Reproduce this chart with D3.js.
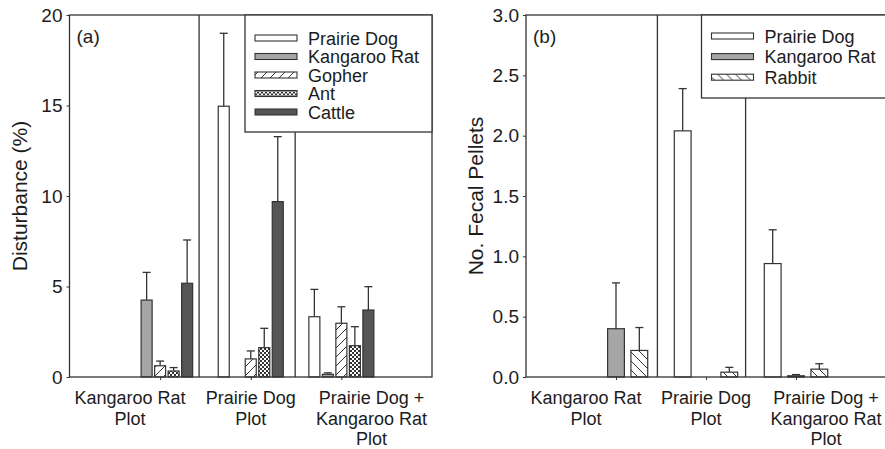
<html><head>
<script src="https://d3js.org/d3.v7.min.js"></script>
<style>
  body { margin: 0; background: #fff; }
  text { font-family: "Liberation Sans", Arial, sans-serif; fill: #1c1c1c; }
</style>
</head>
<body>
<svg id="chart" width="885" height="449"></svg>
<script>
// categories on the x axis
const plots = ["Kangaroo Rat Plot", "Prairie Dog Plot", "Prairie Dog + Kangaroo Rat Plot"];
const plotLabels = [["Kangaroo Rat", "Plot"], ["Prairie Dog", "Plot"], ["Prairie Dog +", "Kangaroo Rat", "Plot"]];

// (a) disturbance (%) - mean and upper error per plot
const distSeries = ["Prairie Dog", "Kangaroo Rat", "Gopher", "Ant", "Cattle"];
const distPrairieDog = [null, 14.96, 3.33];
const distPrairieDogErr = [null, 4.03, 1.51];
const distKangarooRat = [4.25, null, 0.15];
const distKangarooRatErr = [1.53, null, 0.08];
const distGopher = [0.62, 1.0, 2.97];
const distGopherErr = [0.26, 0.44, 0.91];
const distAnt = [0.33, 1.62, 1.73];
const distAntErr = [0.19, 1.07, 1.05];
const distCattle = [5.18, 9.69, 3.70];
const distCattleErr = [2.39, 3.59, 1.29];
const distTicks = [0, 5, 10, 15, 20];

// (b) no. fecal pellets - mean and upper error per plot
const pelSeries = ["Prairie Dog", "Kangaroo Rat", "Rabbit"];
const pelPrairieDog = [null, 2.04, 0.94];
const pelPrairieDogErr = [null, 0.35, 0.28];
const pelKangarooRat = [0.40, null, 0.01];
const pelKangarooRatErr = [0.38, null, 0.01];
const pelRabbit = [0.22, 0.04, 0.065];
const pelRabbitErr = [0.19, 0.04, 0.045];
const pelTicks = [0, 0.5, 1.0, 1.5, 2.0, 2.5, 3.0];

// hand drawn dividers (x in axis units)
const distDividers = [1.43, 2.49];
const pelDividers = [1.46, 2.44];

const svg = d3.select("#chart");
const ink = "#333";
const plotTop = 15, plotBottom = 377;

// fill patterns
const defs = svg.append("defs");
function hatch(id, size, d) {
    const p = defs.append("pattern").attr("id", id)
        .attr("patternUnits", "userSpaceOnUse").attr("width", size).attr("height", size);
    p.append("rect").attr("width", size).attr("height", size).attr("fill", "#fff");
    p.append("path").attr("d", d).attr("stroke", ink).attr("stroke-width", 1);
}
hatch("fwd", 9, "M-2,2L2,-2M0,9L9,0M7,11L11,7");
hatch("back", 9, "M-2,7L2,11M0,0L9,9M7,-2L11,2");
const chk = defs.append("pattern").attr("id", "chk")
    .attr("patternUnits", "userSpaceOnUse").attr("width", 4).attr("height", 4);
chk.append("rect").attr("width", 4).attr("height", 4).attr("fill", "#fff");
chk.append("rect").attr("width", 2).attr("height", 2).attr("fill", "#333");
chk.append("rect").attr("x", 2).attr("y", 2).attr("width", 2).attr("height", 2).attr("fill", "#333");

const fills = {
    "Prairie Dog": "#fff",
    "Kangaroo Rat": "#a6a6a6",
    "Gopher": "url(#fwd)",
    "Ant": "url(#chk)",
    "Cattle": "#555",
    "Rabbit": "url(#back)"
};

function panel(o) {
    const g = svg.append("g");
    const x = d3.scaleLinear().domain([0, 4]).range([o.left, o.right]);
    const y = d3.scaleLinear().domain([0, o.yMax]).range([plotBottom, plotTop]);
    const group = d3.scalePoint().domain(plots).range([1, 3]);
    const slot = d3.scaleBand().domain(o.series)
        .range([-o.step * o.series.length / 2, o.step * o.series.length / 2])
        .paddingInner(o.pad).paddingOuter(o.pad / 2);
    const labelX = d3.scaleBand().domain(plots).range([o.left, o.right]);
    const bw = x(slot.bandwidth()) - x(0);

    const rows = [];
    o.series.forEach((s, si) => {
        plots.forEach((p, pi) => {
            const v = o.values[si][pi];
            if (v == null) return;
            rows.push({s, p, v, e: o.errors[si][pi]});
        });
    });

    // dividers
    g.selectAll(".div").data(o.dividers).join("line")
        .attr("x1", d => x(d)).attr("x2", d => x(d))
        .attr("y1", plotTop).attr("y2", plotBottom)
        .attr("stroke", ink).attr("stroke-width", 1.3);

    // error bars
    const cx = d => x(group(d.p) + slot(d.s)) + bw / 2;
    g.selectAll(".err").data(rows).join("line")
        .attr("x1", cx).attr("x2", cx)
        .attr("y1", d => y(d.v)).attr("y2", d => y(d.v + d.e))
        .attr("stroke", ink).attr("stroke-width", 1.3);
    g.selectAll(".cap").data(rows).join("line")
        .attr("x1", d => cx(d) - 4).attr("x2", d => cx(d) + 4)
        .attr("y1", d => y(d.v + d.e)).attr("y2", d => y(d.v + d.e))
        .attr("stroke", ink).attr("stroke-width", 1.3);

    // bars
    g.selectAll(".bar").data(rows).join("rect")
        .attr("x", d => x(group(d.p) + slot(d.s)))
        .attr("width", bw)
        .attr("y", d => y(d.v))
        .attr("height", d => y(0) - y(d.v))
        .attr("fill", d => fills[d.s])
        .attr("stroke", ink).attr("stroke-width", 1.2);

    // axes
    const ya = g.append("g").attr("transform", `translate(${o.left},0)`)
        .call(d3.axisLeft(y).tickValues(o.ticks).tickSize(3).tickPadding(4).tickFormat(o.fmt));
    ya.select(".domain").remove();
    ya.selectAll("line").attr("stroke", ink);
    ya.selectAll("text").attr("font-size", 19).attr("fill", "#1c1c1c")
        .style("font-family", "'Liberation Sans', Arial, sans-serif");

    const xa = g.append("g").attr("transform", `translate(0,${plotBottom})`)
        .call(d3.axisBottom(x).tickValues(plots.map(group)).tickSize(3).tickFormat(""));
    xa.select(".domain").remove();
    xa.selectAll("line").attr("stroke", ink);

    // frame
    g.append("rect").attr("x", o.left).attr("y", plotTop)
        .attr("width", o.right - o.left).attr("height", plotBottom - plotTop)
        .attr("fill", "none").attr("stroke", ink).attr("stroke-width", 1.3);

    // category labels
    plots.forEach((p, i) => {
        const t = g.append("text").attr("text-anchor", "middle").attr("font-size", 18)
            .attr("x", labelX(p) + labelX.bandwidth() / 2).attr("y", plotBottom + 27);
        plotLabels[i].forEach((line, li) => {
            t.append("tspan").attr("x", labelX(p) + labelX.bandwidth() / 2)
                .attr("dy", li === 0 ? 0 : 20.5).text(line);
        });
    });

    // y title
    g.append("text").attr("text-anchor", "middle").attr("font-size", 21)
        .attr("transform", `translate(${o.titleX},${(plotTop + plotBottom) / 2}) rotate(-90)`)
        .text(o.title);

    // panel letter
    g.append("text").attr("x", o.left + 7).attr("y", 43).attr("font-size", 19).text(o.letter);

    // legend
    const lg = g.append("g");
    lg.append("rect").attr("x", o.legend.x).attr("y", plotTop)
        .attr("width", o.right - o.legend.x).attr("height", o.legend.bottom - plotTop)
        .attr("fill", "#fff").attr("stroke", ink).attr("stroke-width", 1.3);
    const item = lg.selectAll(".item").data(o.series).join("g")
        .attr("transform", (d, i) => `translate(${o.legend.x + 10},${o.legend.y0 + i * o.legend.dy})`);
    item.append("rect").attr("x", 0).attr("y", -3).attr("width", 42).attr("height", 6)
        .attr("fill", d => fills[d]).attr("stroke", ink).attr("stroke-width", 1.1);
    item.append("text").attr("x", 53).attr("y", 6.5).attr("font-size", 18).text(d => d);
}

panel({
    left: 69.5, right: 432, yMax: 20, ticks: distTicks, fmt: d3.format("d"),
    series: distSeries,
    values: [distPrairieDog, distKangarooRat, distGopher, distAnt, distCattle],
    errors: [distPrairieDogErr, distKangarooRatErr, distGopherErr, distAntErr, distCattleErr],
    step: 0.149, pad: 0.185, dividers: distDividers,
    title: "Disturbance (%)", titleX: 27, letter: "(a)",
    legend: {x: 245, bottom: 132, y0: 38, dy: 18.5}
});

panel({
    left: 526, right: 886, yMax: 3, ticks: pelTicks, fmt: d3.format(".1f"),
    series: pelSeries,
    values: [pelPrairieDog, pelKangarooRat, pelRabbit],
    errors: [pelPrairieDogErr, pelKangarooRatErr, pelRabbitErr],
    step: 0.259, pad: 0.28, dividers: pelDividers,
    title: "No. Fecal Pellets", titleX: 483, letter: "(b)",
    legend: {x: 701.5, bottom: 98, y0: 36, dy: 20.6}
});
</script>
</body>
</html>
